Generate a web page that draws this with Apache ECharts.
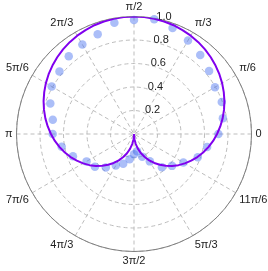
<!DOCTYPE html>
<html>
<head>
<meta charset="utf-8">
<script src="https://cdn.jsdelivr.net/npm/echarts@6/dist/echarts.min.js"></script>
<style>
html,body{margin:0;padding:0;background:#fff;}
#c{width:268px;height:271px;}
</style>
</head>
<body>
<div id="c"></div>
<script>
// Angle tick labels (every 30 degrees, counter-clockwise from the right)
const angleTicks = [0, 30, 60, 90, 120, 150, 180, 210, 240, 270, 300, 330];
const angleLabels = ['0', 'π/6', 'π/3', 'π/2', '2π/3', '5π/6', 'π', '7π/6', '4π/3', '3π/2', '5π/3', '11π/6'];
// Radial tick labels
const radiusTicks = [0.2, 0.4, 0.6, 0.8, 1.0];

// Curve (line): angles in degrees and radii
const lineAngles = [0,5,10,15,20,25,30,35,40,45,50,55,60,65,70,75,80,85,90,95,100,105,110,115,120,125,130,135,140,145,150,155,160,165,170,175,180,185,190,195,200,205,210,215,220,225,230,235,240,245,250,255,260,265,270,275,280,285,290,295,300,305,310,315,320,325,330,335,340,345,350,355,360];
const lineRadii = [0.707,0.737,0.766,0.793,0.819,0.843,0.866,0.887,0.906,0.924,0.940,0.954,0.966,0.976,0.985,0.991,0.996,0.999,1.000,0.999,0.996,0.991,0.985,0.976,0.966,0.954,0.940,0.924,0.906,0.887,0.866,0.843,0.819,0.793,0.766,0.737,0.707,0.676,0.643,0.609,0.574,0.537,0.500,0.462,0.423,0.383,0.342,0.301,0.259,0.216,0.174,0.131,0.087,0.044,0.000,0.044,0.087,0.131,0.174,0.216,0.259,0.301,0.342,0.383,0.423,0.462,0.500,0.537,0.574,0.609,0.643,0.676,0.707];

// Measured points (scatter)
const pointAngles = [0,10,20,30,40,50,60,70,80,90,100,110,120,130,140,150,160,170,180,190,200,210,220,230,240,250,260,270,280,290,300,310,320,330,340,350];
const pointRadii = [0.718,0.768,0.795,0.796,0.834,0.877,0.919,0.960,0.991,0.970,0.961,0.903,0.879,0.864,0.828,0.809,0.758,0.702,0.692,0.625,0.553,0.466,0.434,0.373,0.310,0.269,0.218,0.173,0.150,0.205,0.269,0.369,0.422,0.485,0.577,0.632];

const chart = echarts.init(document.getElementById('c'), null, {renderer: 'canvas'});
const font = 'Liberation Sans, Arial, sans-serif';
const gridColor = '#bdbdbd';

chart.setOption({
  animation: false,
  backgroundColor: '#ffffff',
  polar: [
    {center: [134, 134], radius: 117.5},
    {center: [134, 134], radius: 117.5}
  ],
  angleAxis: [
    {
      polarIndex: 0,
      type: 'value',
      min: 0,
      max: 360,
      interval: 30,
      startAngle: 0,
      clockwise: false,
      axisLine: {show: true, lineStyle: {color: '#808080', width: 1}},
      axisTick: {show: false},
      axisLabel: {
        show: true,
        margin: 4,
        color: '#222',
        fontFamily: font,
        fontSize: 11,
        formatter: function (v) {
          const i = angleTicks.indexOf(Math.round(v));
          return i >= 0 ? angleLabels[i] : '';
        }
      },
      splitLine: {show: true, lineStyle: {color: gridColor, type: [4, 3], width: 1}}
    },
    {
      polarIndex: 1,
      type: 'value',
      min: 0,
      max: 360,
      startAngle: 83,
      clockwise: false,
      show: false
    }
  ],
  radiusAxis: [
    {
      polarIndex: 0,
      type: 'value',
      min: 0,
      max: 1,
      interval: 0.2,
      axisLine: {show: false},
      axisTick: {show: false},
      axisLabel: {show: false},
      splitLine: {show: true, lineStyle: {color: gridColor, type: [4, 3], width: 1}}
    },
    {
      polarIndex: 1,
      type: 'value',
      min: 0,
      max: 1,
      interval: 0.2,
      axisLine: {show: false},
      axisTick: {show: false},
      splitLine: {show: false},
      axisLabel: {
        show: true,
        margin: 6,
        color: '#222',
        fontFamily: font,
        fontSize: 11,
        align: 'left',
        verticalAlign: 'middle',
        padding: [0, 0, 15, 14],
        formatter: function (v) {
          const i = radiusTicks.findIndex(t => Math.abs(t - v) < 1e-6);
          return i >= 0 ? radiusTicks[i].toFixed(1) : '';
        }
      }
    }
  ],
  series: [
    {
      type: 'scatter',
      coordinateSystem: 'polar',
      polarIndex: 0,
      symbol: 'circle',
      symbolSize: 8.5,
      itemStyle: {color: 'rgba(80,120,240,0.6)'},
      data: pointAngles.map((a, i) => [pointRadii[i], a]),
      z: 2
    },
    {
      type: 'line',
      coordinateSystem: 'polar',
      polarIndex: 0,
      showSymbol: false,
      symbol: 'none',
      lineStyle: {color: '#8000ee', width: 2},
      data: lineAngles.map((a, i) => [lineRadii[i], a]),
      z: 3
    }
  ]
});
</script>
</body>
</html>
